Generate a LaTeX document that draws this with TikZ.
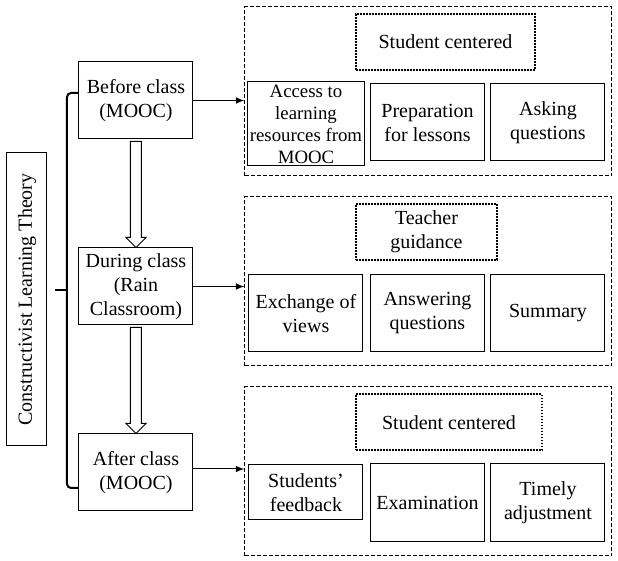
\documentclass[tikz,border=0pt]{standalone}
\usepackage{fontspec}
\setmainfont{Liberation Serif}
\usetikzlibrary{positioning, calc, arrows}
\tikzstyle{theory} = [rectangle, draw=black, line width=0.5pt, minimum width=146.5pt, minimum height=20pt, rotate=90, inner sep=1pt]
\tikzstyle{stage} = [rectangle, draw=black, line width=0.5pt, minimum width=57pt, minimum height=38.5pt, align=center, inner sep=1pt]
\tikzstyle{panel} = [rectangle, draw=black, line width=0.5pt, dash pattern=on 2pt off 1pt, minimum width=183.5pt, minimum height=84.5pt]
\tikzstyle{focus} = [rectangle, draw=black, line width=1pt, dash pattern=on 0.9pt off 0.6pt, minimum height=28pt, align=center, inner sep=1pt]
\tikzstyle{task} = [rectangle, draw=black, line width=0.5pt, minimum width=57pt, minimum height=38.5pt, align=center, inner sep=1pt]
\tikzstyle{arrow} = [->, >=latex, line width=0.5pt]
\tikzstyle{brace} = [line width=1pt, rounded corners=2pt]
\newcommand{\hollowarrow}[2]{%
  \draw [line width=0.5pt] ($(#1.south)+(-2.75pt,-1pt)$) -- ($(#2.north)+(-2.75pt,5pt)$) -- ++(-2.25pt,0) -- (#2.north) -- ++(5pt,5pt) -- ++(-2.25pt,0) -- ($(#1.south)+(2.75pt,-1pt)$) -- cycle;}

\begin{document}
\begin{tikzpicture}[node distance=93pt]
\useasboundingbox (0,0) rectangle (309pt,-280.5pt);

\node (theory) [theory] at (13.5pt,-149.75pt) {Constructivist Learning Theory};

\node (before) [stage] at (68pt,-50.25pt) {Before class\\(MOOC)};
\node (during) [stage, below of=before] {During class\\(Rain\\Classroom)};
\node (after) [stage, below of=during] {After class\\(MOOC)};

\draw [brace] ($(before.west)+(0,3.75pt)$) -| (33.5pt,-145pt) |- ($(after.west)+(0,-7.75pt)$);
\draw [brace] (33.5pt,-145pt) -- (27.5pt,-145pt);

\hollowarrow{before}{during}
\hollowarrow{during}{after}

% before class
\node (pan1) [panel] at (214.25pt,-45.75pt) {};
\node (foc1) [focus, minimum width=89.5pt] at (222.75pt,-21pt) {Student centered};
\node (acc) [task, minimum height=42pt, font=\fontsize{9.4pt}{11pt}\selectfont] at (153pt,-62pt) {Access to\\learning\\resources from\\MOOC};
\node (prep) [task] at (213.75pt,-61.25pt) {Preparation\\for lessons};
\node (ask) [task] at (274pt,-61.25pt) {Asking\\questions};
\draw [arrow] (before.east) -- (before.east -| pan1.west);

% during class
\node (pan2) [panel] at (214.25pt,-140.75pt) {};
\node (foc2) [focus, minimum width=70.5pt] at (213.25pt,-116pt) {Teacher\\guidance};
\node (exch) [task] at (153pt,-156.75pt) {Exchange of\\views};
\node (ans) [task] at (213.75pt,-156.75pt) {Answering\\questions};
\node (summ) [task] at (274pt,-156.75pt) {Summary};
\draw [arrow] (during.east) -- (during.east -| pan2.west);

% after class
\node (pan3) [panel] at (214.25pt,-235.75pt) {};
\node (foc3) [focus, minimum width=93pt] at (224.5pt,-211.25pt) {Student centered};
\node (feed) [task, minimum height=27.5pt] at (153pt,-246.25pt) {Students'\\feedback};
\node (exam) [task, minimum height=39pt] at (213.75pt,-251.5pt) {Examination};
\node (adj) [task, minimum height=39pt] at (274pt,-251.5pt) {Timely\\adjustment};
\draw [arrow] ($(after.east)+(0,1.75pt)$) -- ($(after.east -| pan3.west)+(0,1.75pt)$);

\end{tikzpicture}
\end{document}
